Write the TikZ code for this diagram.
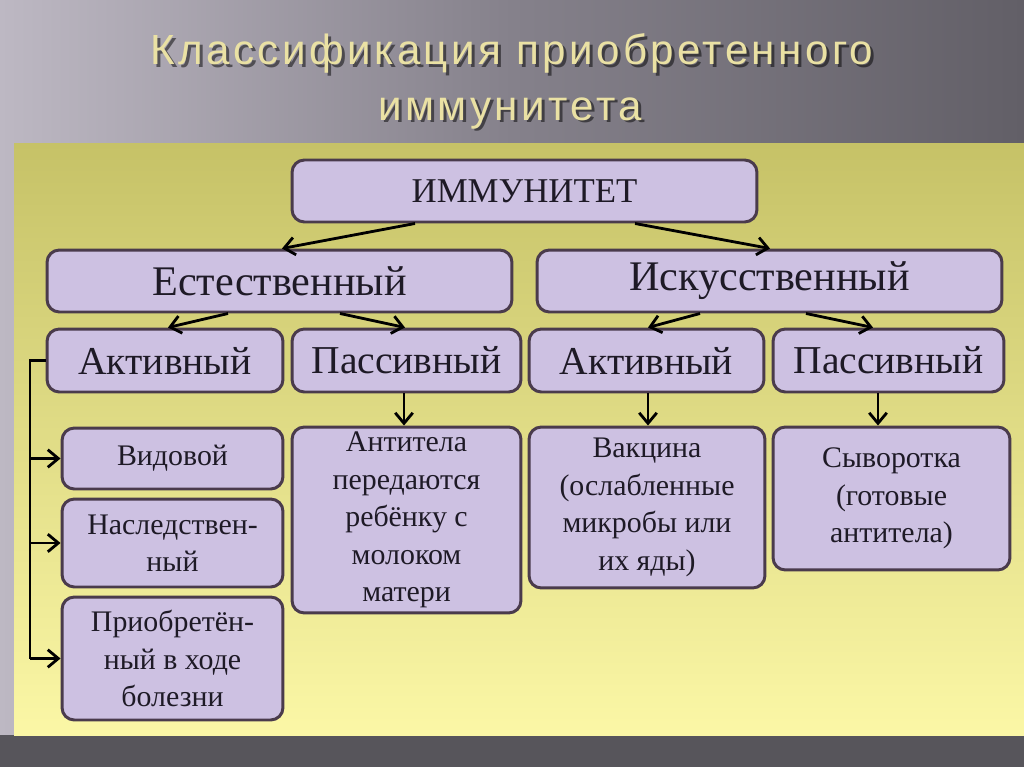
\documentclass[tikz,border=0pt]{standalone}
\usepackage{fontspec}
\setmainfont{Liberation Serif}
\newfontfamily\titlefont[LetterSpace=8]{Liberation Sans}
\usetikzlibrary{arrows.meta,calc}
\definecolor{boxfill}{HTML}{CDC1E2}
\definecolor{boxline}{HTML}{4A3B4C}
\definecolor{txt}{HTML}{1E1A26}
\definecolor{ytop}{HTML}{C6C267}
\definecolor{ybot}{HTML}{FBF7A6}
\definecolor{glight}{HTML}{BDB8C3}
\definecolor{gmid}{HTML}{85818B}
\definecolor{gdark}{HTML}{625F67}
\definecolor{gband}{HTML}{57555B}
\definecolor{gold}{HTML}{EAE1A4}
\tikzset{
  box/.style={draw=boxline, fill=boxfill, line width=1.7pt, rounded corners=7pt,
    text=txt, inner sep=2pt, align=center},
  big/.style={box, font=\fontsize{24}{28}\selectfont},
  mid/.style={box, font=\fontsize{22.5}{27}\selectfont},
  small/.style={box, font=\fontsize{17}{21.3}\selectfont},
  arr/.style={line width=1.6pt, draw=black, -{Straight Barb[length=6pt,width=10pt,line width=1.6pt]}},
  ttl/.style={font=\titlefont\fontsize{24}{28}\selectfont, anchor=base},
}
\begin{document}
\begin{tikzpicture}[x=0.02cm,y=-0.02cm]
\useasboundingbox (0,0) rectangle (1024,767);
% background
\shade[left color=glight, right color=gdark, middle color=gmid] (0,0) rectangle (1024,767);
\fill[gband] (0,735) rectangle (1024,767);
\shade[top color=ytop, bottom color=ybot] (14,143) rectangle (1024,735);
% title
\node[ttl, text=black, opacity=0.5] at (515,68) {Классификация приобретенного};
\node[ttl, text=black, opacity=0.5] at (513,123) {иммунитета};
\node[ttl, text=gold] (title1) at (512,65) {Классификация приобретенного};
\node[ttl, text=gold] (title2) at (510,120) {иммунитета};
% boxes
\node[box, font=\fontsize{19.8}{24}\selectfont, minimum width=9.3cm, minimum height=1.24cm] (imm) at (524.5,191) {ИММУНИТЕТ};
\node[big, minimum width=9.3cm, minimum height=1.24cm] (est) at (279.5,281) {Естественный};
\node[big, minimum width=9.3cm, minimum height=1.24cm] (isk) at (769.5,281) {Искусственный};
\node[mid, minimum width=4.72cm, minimum height=1.26cm] (act1) at (165,360.5) {Активный};
\node[mid, minimum width=4.58cm, minimum height=1.26cm] (pas1) at (406.5,360.5) {Пассивный};
\node[mid, minimum width=4.7cm, minimum height=1.26cm] (act2) at (646.5,360.5) {Активный};
\node[mid, minimum width=4.62cm, minimum height=1.26cm] (pas2) at (888.5,360.5) {Пассивный};
\node[small, minimum width=4.42cm, minimum height=1.22cm] (vid) at (172.5,458.5) {Видовой};
\node[small, minimum width=4.42cm, minimum height=1.76cm] (nasl) at (172.5,543) {Наследствен-\\ный};
\node[small, minimum width=4.42cm, minimum height=2.46cm] (priob) at (172.5,658.5) {Приобретён-\\ный в ходе\\болезни};
\node[small, minimum width=4.58cm, minimum height=3.72cm] (anti) at (406.5,520) {Антитела\\передаются\\ребёнку с\\молоком\\матери};
\node[small, minimum width=4.72cm, minimum height=3.22cm] (vac) at (647,507.5) {Вакцина\\(ослабленные\\микробы или\\их яды)};
\node[small, minimum width=4.74cm, minimum height=2.86cm] (syv) at (891.5,498.5) {Сыворотка\\(готовые\\антитела)};
% connectors
\draw[arr] ($(imm.south)+(-109.5,0)$) -- ($(est.north)+(2.5,0)$);
\draw[arr] ($(imm.south)+(110.5,0)$) -- ($(isk.north)+(0.5,0)$);
\draw[arr] ($(est.south)+(-51.5,0)$) -- ($(act1.north)+(3,0)$);
\draw[arr] ($(est.south)+(60.5,0)$) -- ($(pas1.north)+(-1.5,0)$);
\draw[arr] ($(isk.south)+(-69.5,0)$) -- ($(act2.north)+(1.5,0)$);
\draw[arr] ($(isk.south)+(36.5,0)$) -- ($(pas2.north)+(-15.5,0)$);
\draw[arr] ($(pas1.south)+(-2.5,0)$) coordinate (p1s) -- (p1s |- anti.north);
\draw[arr] ($(act2.south)+(1.5,0)$) coordinate (a2s) -- (a2s |- vac.north);
\draw[arr] ($(pas2.south)+(-10.5,0)$) coordinate (p2s) -- (p2s |- syv.north);
\coordinate (bx) at (30,0);
\draw[line width=1.6pt] (act1.west) -- (act1.west -| bx) -- (priob.west -| bx);
\draw[arr] (vid.west -| bx) -- (vid.west);
\draw[arr] (nasl.west -| bx) -- (nasl.west);
\draw[arr] (priob.west -| bx) -- (priob.west);
\end{tikzpicture}
\end{document}
